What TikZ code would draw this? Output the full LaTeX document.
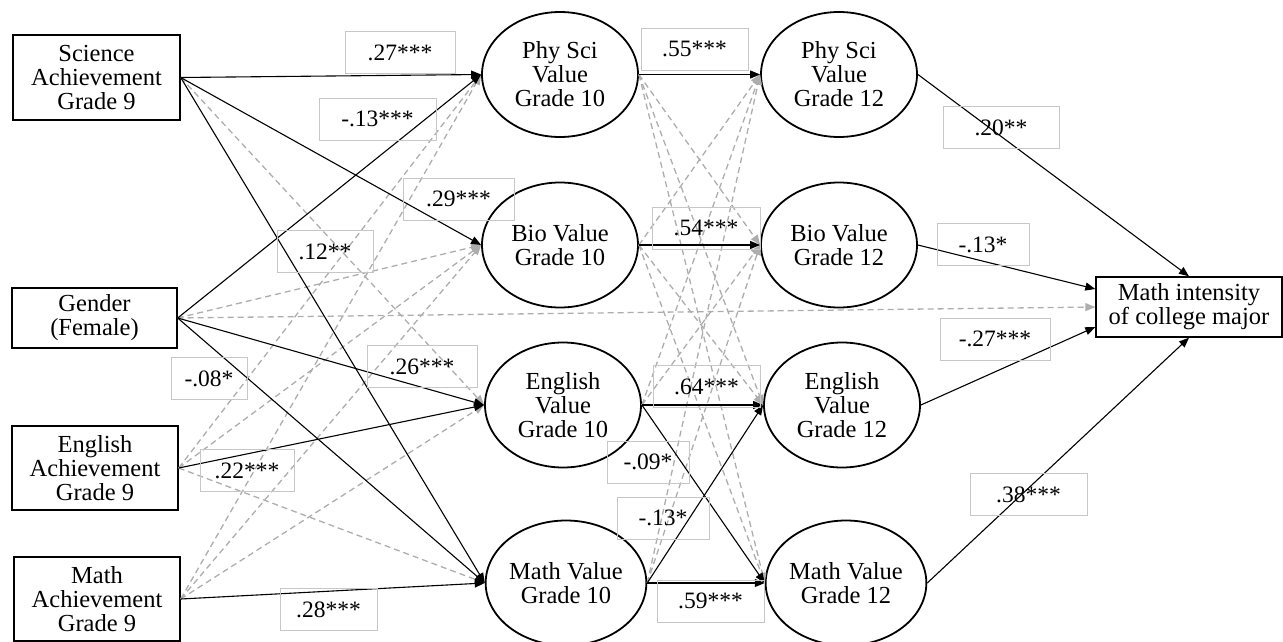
\documentclass[tikz,border=0pt]{standalone}
\usepackage{fontspec}
\setmainfont{Liberation Serif}
\usetikzlibrary{shapes.geometric,arrows.meta}
\begin{document}
\begin{tikzpicture}[x=1pt,y=-1pt,
  txt/.style={font=\fontsize{24.5}{24}\selectfont, align=center},
  obs/.style={txt, draw, line width=1.4pt, inner sep=0pt, minimum height=84pt, minimum width=166pt},
  lat/.style={txt, ellipse, draw, line width=1.8pt, inner sep=0pt, minimum width=156pt, minimum height=125pt},
  coef/.style={font=\fontsize{23.5}{24}\selectfont, draw=black!22, line width=0.7pt, inner sep=0pt, minimum height=42pt},
  sig/.style={draw=black, line width=1.1pt, -{Triangle[length=10pt,width=8pt]}},
  ns/.style={draw=black!32, line width=1.3pt, dash pattern=on 6pt off 4pt, -{Triangle[length=10pt,width=8pt]}}
]
\useasboundingbox (0,0) rectangle (1283,642);

% observed exogenous
\node[obs, minimum width=167pt, minimum height=85pt] (sci9) at (96.5,77.5) {Science\\Achievement\\Grade 9};
\node[obs, minimum width=165pt, minimum height=60pt] (gen) at (94.5,318) {Gender\\(Female)};
\node[obs] (eng9) at (95,468) {English\\Achievement\\Grade 9};
\node[obs] (math9) at (97,599) {Math\\Achievement\\Grade 9};

% grade 10
\node[lat] (phy10) at (560,74.5) {Phy Sci\\Value\\Grade 10};
\node[lat] (bio10) at (560,245) {Bio Value\\Grade 10};
\node[lat] (eng10) at (563,405) {English\\Value\\Grade 10};
\node[lat] (math10) at (566,583) {Math Value\\Grade 10};

% grade 12
\node[lat] (phy12) at (839,74.5) {Phy Sci\\Value\\Grade 12};
\node[lat] (bio12) at (839,245) {Bio Value\\Grade 12};
\node[lat] (eng12) at (842,405) {English\\Value\\Grade 12};
\node[lat] (math12) at (846,583) {Math Value\\Grade 12};

% outcome
\node[obs, minimum width=186pt, minimum height=60pt] (out) at (1189,307) {Math intensity\\of college major};
\coordinate (outa) at ([yshift=18pt]out.west);
\coordinate (outb) at ([yshift=-20pt]out.west);

% non-significant paths
\draw[ns] (sci9.east) -- (eng10.west);
\draw[ns] (gen.east) -- (bio10.west);
\draw[ns] (gen.east) -- (out.west);
\draw[ns] (eng9.east) -- (phy10.west);
\draw[ns] (eng9.east) -- (bio10.west);
\draw[ns] (eng9.east) -- (math10.west);
\draw[ns] (math9.east) -- (phy10.west);
\draw[ns] (math9.east) -- (bio10.west);
\draw[ns] (math9.east) -- (eng10.west);
\draw[ns] (phy10.east) -- (bio12.west);
\draw[ns] (phy10.east) -- (eng12.west);
\draw[ns] (phy10.east) -- (math12.west);
\draw[ns] (bio10.east) -- (phy12.west);
\draw[ns] (bio10.east) -- (eng12.west);
\draw[ns] (bio10.east) -- (math12.west);
\draw[ns] (eng10.east) -- (phy12.west);
\draw[ns] (eng10.east) -- (bio12.west);
\draw[ns] (math10.east) -- (phy12.west);
\draw[ns] (math10.east) -- (bio12.west);

% significant paths
\draw[sig] (sci9.east) -- (phy10.west);
\draw[sig] (sci9.east) -- (bio10.west);
\draw[sig] (sci9.east) -- (math10.west);
\draw[sig] (gen.east) -- (phy10.west);
\draw[sig] (gen.east) -- (eng10.west);
\draw[sig] (gen.east) -- (math10.west);
\draw[sig] (eng9.east) -- (eng10.west);
\draw[sig] (math9.east) -- (math10.west);
\draw[sig] (phy10.east) -- (phy12.west);
\draw[sig] (bio10.east) -- (bio12.west);
\draw[sig] (eng10.east) -- (eng12.west);
\draw[sig] (math10.east) -- (math12.west);
\draw[sig] (eng10.east) -- (math12.west);
\draw[sig] (math10.east) -- (eng12.west);
\draw[sig] (phy12.east) -- (out.north);
\draw[sig] (bio12.east) -- (outa);
\draw[sig] (eng12.east) -- (outb);
\draw[sig] (math12.east) -- (out.south);

% coefficients
\node[coef, minimum width=110pt] (c1) at (400,52.5) {.27***};
\node[coef, minimum width=117pt] (c2) at (377.5,119) {-.13***};
\node[coef, minimum width=111pt] (c3) at (458.5,199) {.29***};
\node[coef, minimum width=96pt] (c4) at (325,251.5) {.12**};
\node[coef, minimum width=110pt] (c5) at (422,366.5) {.26***};
\node[coef, minimum width=76pt] (c6) at (209,378.5) {-.08*};
\node[coef, minimum width=94pt] (c7) at (247,470.5) {.22***};
\node[coef, minimum width=97pt] (c8) at (328.5,609.5) {.28***};
\node[coef, minimum width=107pt] (c9) at (694.5,49) {.55***};
\node[coef, minimum width=108pt] (c10) at (706,228) {.54***};
\node[coef, minimum width=107pt] (c11) at (706.5,386.5) {.64***};
\node[coef, minimum width=82pt] (c12) at (648,462) {-.09*};
\node[coef, minimum width=92pt] (c13) at (663,518) {-.13*};
\node[coef, minimum width=107pt] (c14) at (710.5,601) {.59***};
\node[coef, minimum width=116pt] (c15) at (1001,127.5) {.20**};
\node[coef, minimum width=92pt] (c16) at (983,244.5) {-.13*};
\node[coef, minimum width=110pt] (c17) at (995,339) {-.27***};
\node[coef, minimum width=117pt] (c18) at (1028.5,494.5) {.38***};
\end{tikzpicture}
\end{document}
